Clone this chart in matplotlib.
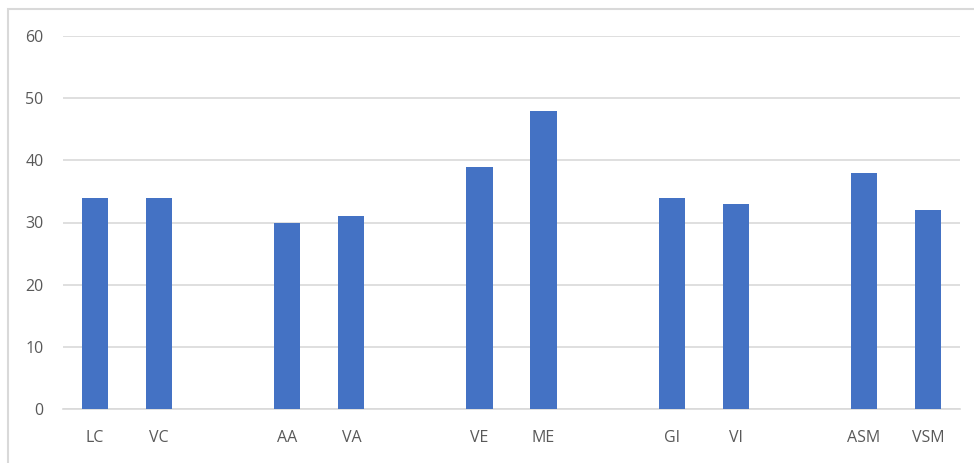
import matplotlib.pyplot as plt
from matplotlib.patches import Rectangle

# categories incl. blank spacer slots between the pairs
categories = ['LC', 'VC', '', 'AA', 'VA', '', 'VE', 'ME', '', 'GI', 'VI', '', 'ASM', 'VSM']
values = [34, 34, 0, 30, 31, 0, 39, 48, 0, 34, 33, 0, 38, 32]
yticks = [0, 10, 20, 30, 40, 50, 60]

W, H = 974, 463
fig = plt.figure(figsize=(W / 100, H / 100), dpi=100)

# light outer frame like the Excel chart area (cut off at right and bottom)
fig.patches.append(Rectangle((8 / W, -20 / H), (W + 20) / W, (H - 9 + 20) / H,
                             transform=fig.transFigure, fill=False,
                             edgecolor='#d9d9d9', linewidth=1.5))

ax = fig.add_axes([63 / W, (H - 409) / H, 897 / W, 373 / H])

x = range(len(categories))
ax.bar(x, values, width=0.41, color='#4472C4', zorder=3)

ax.set_xlim(-0.5, len(categories) - 0.5)
ax.set_ylim(0, 60)
ax.set_yticks(yticks)
ax.set_xticks(list(x))
ax.set_xticklabels(categories)

ax.grid(axis='y', color='#d9d9d9', linewidth=1.2, zorder=0)
for s in ['top', 'right', 'left']:
    ax.spines[s].set_visible(False)
ax.spines['bottom'].set_color('#d9d9d9')
ax.spines['bottom'].set_linewidth(1.2)

ax.tick_params(axis='both', length=0, labelsize=11.5, labelcolor='#595959')
ax.tick_params(axis='y', pad=14)
ax.tick_params(axis='x', pad=15)
for t in ax.get_xticklabels() + ax.get_yticklabels():
    t.set_fontfamily('Open Sans')

fig.savefig('out.png', dpi=100)
